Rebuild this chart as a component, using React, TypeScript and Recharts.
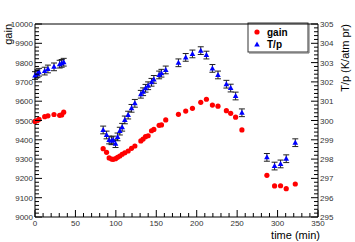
import React from 'react';
import { ScatterChart, Scatter, XAxis, YAxis, ErrorBar, ReferenceLine } from 'recharts';

const times = [0, 3, 5, 12, 16, 23.5, 30.5, 33, 35.5,
  84.3, 88.5, 91.7, 94.7, 96.7, 99.6, 102.1, 104.9, 107.8, 111.1, 115.2, 119.4, 123.5, 130.9, 133.7, 136.7, 139.9, 144.1, 147, 153.5, 156.4, 161.7, 177.4, 186.4, 194.7, 205, 212, 219.4, 226.3, 236.7, 242, 248.1, 255.9,
  286.8, 296.3, 303.7, 310.7, 321.9];
const gainValues = [9495, 9500, 9506, 9520, 9524, 9531, 9527, 9529, 9543,
  9354, 9335, 9306, 9300, 9299, 9302, 9309, 9316, 9325, 9333, 9342, 9356, 9368, 9394, 9404, 9416, 9421, 9447, 9454, 9475, 9477, 9503, 9532, 9549, 9563, 9594, 9610, 9580, 9574, 9551, 9537, 9517, 9451,
  9216, 9161, 9162, 9147, 9171];
const tpValues = [302.33, 302.42, 302.5, 302.56, 302.67, 302.78, 302.92, 302.96, 303.02,
  299.51, 299.25, 298.99, 298.95, 298.99, 298.8, 299.15, 299.45, 299.65, 300.03, 300.28, 300.63, 300.89, 301.36, 301.49, 301.67, 301.8, 301.98, 302.13, 302.36, 302.45, 302.62, 302.99, 303.27, 303.45, 303.62, 303.39, 302.7, 302.36, 301.88, 301.68, 301.27, 300.4,
  298.09, 297.64, 297.75, 298.02, 298.85];
const tpErrors = times.map(() => 0.2);

const xTicks = Array.from({ length: 36 }, (_, i) => i * 10);
const leftTicks = Array.from({ length: 51 }, (_, i) => 9000 + i * 20);
const rightTicks = Array.from({ length: 51 }, (_, i) => (2950 + i * 2) / 10);

const seriesNames = ['gain', 'T/p'];

const gainData = times.map((t, i) => ({ t, gain: gainValues[i] }));
const tpData = times.map((t, i) => ({ t, tp: tpValues[i], err: tpErrors[i] }));

const FONT = '"Liberation Sans", Arial, Helvetica, sans-serif';

const LeftTick = (p: any) => {
  const v = p.payload.value;
  const major = Math.abs(v % 100) < 1e-6;
  return (
    <g>
      <line x1={p.x} x2={p.x + (major ? 7 : 4)} y1={p.y} y2={p.y} stroke="#000" strokeWidth={1} />
      {major && (
        <text x={p.x - 2} y={p.y} dy={3} textAnchor="end" fontSize={8} fill="#333" fontFamily={FONT}>{v}</text>
      )}
    </g>
  );
};

const RightTick = (p: any) => {
  const v = p.payload.value;
  const major = Math.abs(v - Math.round(v)) < 1e-6;
  return (
    <g>
      <line x1={p.x} x2={p.x - (major ? 7 : 4)} y1={p.y} y2={p.y} stroke="#000" strokeWidth={1} />
      {major && (
        <text x={p.x + 2} y={p.y} dy={3} textAnchor="start" fontSize={8} fill="#333" fontFamily={FONT}>{Math.round(v)}</text>
      )}
    </g>
  );
};

const BottomTick = (p: any) => {
  const v = p.payload.value;
  const major = Math.abs(v % 50) < 1e-6;
  return (
    <g>
      <line x1={p.x} x2={p.x} y1={p.y} y2={p.y - (major ? 7 : 4)} stroke="#000" strokeWidth={1} />
      {major && (
        <text x={p.x} y={p.y + 9} textAnchor="middle" fontSize={8} fill="#333" fontFamily={FONT}>{v}</text>
      )}
    </g>
  );
};

const Dot = (p: any) => <circle cx={p.cx} cy={p.cy} r={2.6} fill="#ff0000" />;
const Tri = (p: any) => (
  <polygon points={`${p.cx},${p.cy - 3} ${p.cx - 2.8},${p.cy + 2} ${p.cx + 2.8},${p.cy + 2}`} fill="#0000ff" />
);

export default function App() {
  return (
    <div style={{ position: 'absolute', left: 0, top: 0, width: 355, height: 242, background: '#fff' }}>
      <ScatterChart width={355} height={242} margin={{ top: 24, right: 36, bottom: 24, left: 34 }}>
        <XAxis type="number" dataKey="t" domain={[0, 350]} ticks={xTicks} interval={0} height={1}
          tickSize={0} tickMargin={0} tickLine={false} tick={<BottomTick />} axisLine={{ stroke: '#000' }} />
        <YAxis yAxisId="l" type="number" dataKey="gain" domain={[9000, 10000]} ticks={leftTicks} interval={0} width={1}
          tickSize={0} tickMargin={0} tickLine={false} tick={<LeftTick />} axisLine={{ stroke: '#000' }} />
        <YAxis yAxisId="r" orientation="right" type="number" dataKey="tp" domain={[295, 305]} ticks={rightTicks} interval={0} width={1}
          tickSize={0} tickMargin={0} tickLine={false} tick={<RightTick />} axisLine={{ stroke: '#000' }} />
        <ReferenceLine yAxisId="l" y={10000} stroke="#000" />
        <Scatter name={seriesNames[0]} yAxisId="l" data={gainData} shape={<Dot />} isAnimationActive={false} />
        <Scatter name={seriesNames[1]} yAxisId="r" data={tpData} shape={<Tri />} isAnimationActive={false}>
          <ErrorBar dataKey="err" direction="y" width={3} stroke="#222" strokeWidth={1} />
        </Scatter>
        <g>
          <rect x={248} y={23} width={60} height={29} fill="#fff" stroke="#333" strokeWidth={1} />
          <line x1={309} y1={24} x2={309} y2={53} stroke="#666" strokeWidth={1} />
          <line x1={249} y1={53} x2={309} y2={53} stroke="#666" strokeWidth={1} />
          <circle cx={257} cy={32} r={2.6} fill="#ff0000" />
          <polygon points="257,41.5 254.2,46.5 259.8,46.5" fill="#0000ff" />
          <text x={267} y={36} fontSize={10} fontWeight="bold" fill="#000" fontFamily={FONT}>{seriesNames[0]}</text>
          <text x={267} y={48} fontSize={10} fontWeight="bold" fill="#000" fontFamily={FONT}>{seriesNames[1]}</text>
        </g>
        <text x={12} y={24} transform="rotate(-90 12 24)" textAnchor="end" fontSize={11} fill="#000" fontFamily={FONT}>gain</text>
        <text x={349} y={24} transform="rotate(-90 349 24)" textAnchor="end" fontSize={11} fill="#000" fontFamily={FONT}>T/p (K/atm pr)</text>
        <text x={320} y={239} textAnchor="end" fontSize={11} fill="#000" fontFamily={FONT}>time (min)</text>
      </ScatterChart>
    </div>
  );
}
